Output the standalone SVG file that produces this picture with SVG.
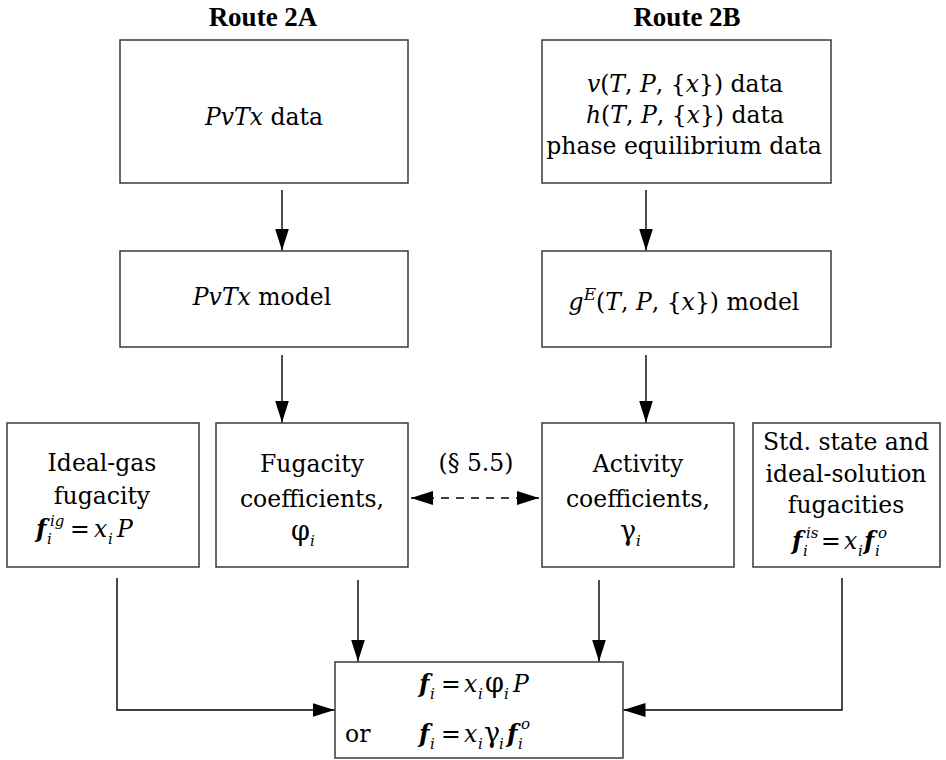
<svg xmlns="http://www.w3.org/2000/svg" width="946" height="760" viewBox="0 0 946 760">
<style>
.box{fill:#fff;stroke:#3a3a3a;stroke-width:1.5}
.ln{fill:none;stroke:#000;stroke-width:1.4}
.dash{stroke-dasharray:8 7}
text{font-family:"DejaVu Serif","Liberation Serif",serif;font-size:23.5px;fill:#000}
.c{text-anchor:middle}
.i{font-style:italic}
.bi{font-style:italic;font-weight:bold;font-size:24px}
.g{font-size:27px}
.s{font-size:15px;font-style:italic}
.hd{font-family:"Liberation Serif",serif;font-size:27px;font-weight:bold}
</style>
<defs>
<marker id="ah" viewBox="0 0 22 14" refX="22" refY="7" markerWidth="22" markerHeight="14" orient="auto-start-reverse" markerUnits="userSpaceOnUse"><path d="M0,0 L22,7 L0,14 z" fill="#000"/></marker>
</defs>

<text class="hd c" x="263" y="26">Route 2A</text>
<text class="hd c" x="687" y="26">Route 2B</text>

<g id="pvtx-data">
<rect class="box" x="120" y="40" width="288" height="143"/>
<text class="c" x="264" y="125"><tspan class="i">PvTx</tspan> data</text>
</g>

<g id="route2b-data">
<rect class="box" x="542" y="40" width="289" height="143"/>
<text class="c" x="685" y="92"><tspan class="i">v</tspan>(<tspan class="i">T</tspan>, <tspan class="i">P</tspan>, {<tspan class="i">x</tspan>}) data</text>
<text class="c" x="685" y="123"><tspan class="i">h</tspan>(<tspan class="i">T</tspan>, <tspan class="i">P</tspan>, {<tspan class="i">x</tspan>}) data</text>
<text class="c" x="684" y="154">phase equilibrium data</text>
</g>

<g id="pvtx-model">
<rect class="box" x="120" y="251" width="288" height="96"/>
<text class="c" x="262" y="305"><tspan class="i">PvTx</tspan> model</text>
</g>

<g id="ge-model">
<rect class="box" x="542" y="251" width="289" height="96"/>
<text class="c" x="684" y="310"><tspan class="i">g</tspan><tspan class="i" font-size="17" dy="-10">E</tspan><tspan dy="10">(</tspan><tspan class="i">T</tspan>, <tspan class="i">P</tspan>, {<tspan class="i">x</tspan>}) model</text>
</g>

<g id="ideal-gas">
<rect class="box" x="7" y="423" width="192" height="144"/>
<text class="c" x="102" y="471">Ideal-gas</text>
<text class="c" x="102" y="504">fugacity</text>
<text class="bi" x="36" y="537">f</text>
<text class="s" x="47" y="544">i</text>
<text class="s" x="50" y="526">ig</text>
<text x="70" y="537">=</text>
<text class="i" x="94" y="537">x</text>
<text class="s" x="108" y="544">i</text>
<text class="i" x="117" y="537">P</text>
</g>

<g id="fugacity-coeff">
<rect class="box" x="216" y="423" width="192" height="144"/>
<text class="c" x="312" y="472">Fugacity</text>
<text class="c" x="312" y="507">coefficients,</text>
<text class="g" x="291" y="540">φ</text>
<text class="s" x="310" y="546">i</text>
</g>

<g id="activity-coeff">
<rect class="box" x="542" y="423" width="192" height="144"/>
<text class="c" x="638" y="472">Activity</text>
<text class="c" x="638" y="507">coefficients,</text>
<text class="g" x="620" y="540">γ</text>
<text class="s" x="636" y="546">i</text>
</g>

<g id="std-state">
<rect class="box" x="753" y="423" width="187" height="144"/>
<text class="c" x="846" y="450">Std. state and</text>
<text class="c" x="846" y="482">ideal-solution</text>
<text class="c" x="846" y="513">fugacities</text>
<text class="bi" x="792" y="549">f</text>
<text class="s" x="803" y="556">i</text>
<text class="s" x="806" y="538">is</text>
<text x="821" y="549">=</text>
<text class="i" x="844" y="549">x</text>
<text class="s" x="858" y="556">i</text>
<text class="bi" x="864" y="549">f</text>
<text class="s" x="875" y="556">i</text>
<text class="s" x="878" y="538">o</text>
</g>

<g id="result">
<rect class="box" x="335" y="662" width="288" height="96"/>
<text class="bi" x="419" y="692">f</text>
<text class="s" x="430" y="699">i</text>
<text x="441" y="692">=</text>
<text class="i" x="464" y="692">x</text>
<text class="s" x="478" y="699">i</text>
<text class="g" x="485" y="692">φ</text>
<text class="s" x="504" y="699">i</text>
<text class="i" x="513" y="692">P</text>
<text x="345" y="742">or</text>
<text class="bi" x="419" y="742">f</text>
<text class="s" x="430" y="749">i</text>
<text x="441" y="742">=</text>
<text class="i" x="464" y="742">x</text>
<text class="s" x="478" y="749">i</text>
<text class="g" x="484" y="742">γ</text>
<text class="s" x="499" y="749">i</text>
<text class="bi" x="507" y="742">f</text>
<text class="s" x="518" y="749">i</text>
<text class="s" x="521" y="729">o</text>
</g>

<text class="c" x="476" y="471">(§ 5.5)</text>

<g id="connectors">
<path class="ln" d="M282,190 V250.5" marker-end="url(#ah)"/>
<path class="ln" d="M646,190 V250.5" marker-end="url(#ah)"/>
<path class="ln" d="M282,355 V422.5" marker-end="url(#ah)"/>
<path class="ln" d="M646,355 V422.5" marker-end="url(#ah)"/>
<path class="ln dash" d="M411,498 H539" marker-start="url(#ah)" marker-end="url(#ah)"/>
<path class="ln" d="M117,578 V710 H334.5" marker-end="url(#ah)"/>
<path class="ln" d="M358,580 V661.5" marker-end="url(#ah)"/>
<path class="ln" d="M599,580 V661.5" marker-end="url(#ah)"/>
<path class="ln" d="M842,578 V710 H623.5" marker-end="url(#ah)"/>
</g>
</svg>
